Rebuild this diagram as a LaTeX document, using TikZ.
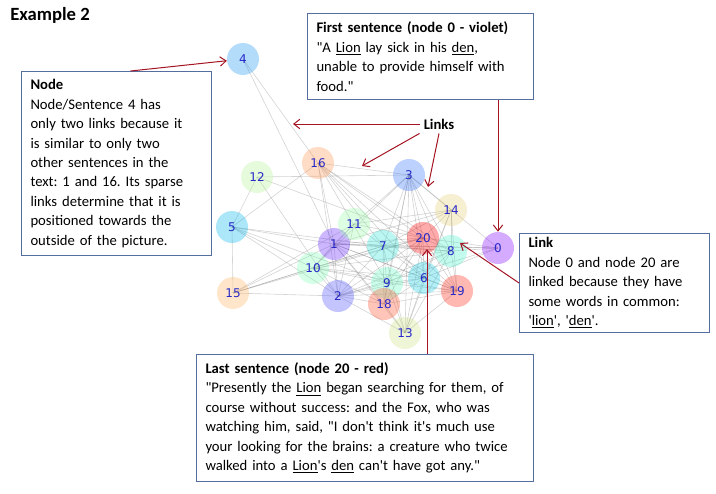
\documentclass[tikz,border=0pt]{standalone}
\usepackage{fontspec}
\setmainfont{Carlito}[Ligatures=TeXOff]
\newfontfamily\labelfont{DejaVu Sans}
\usetikzlibrary{arrows.meta}
\usetikzlibrary{backgrounds}
\usetikzlibrary{positioning}
\frenchspacing
\definecolor{boxblue}{RGB}{84,110,160}
\definecolor{mred}{RGB}{165,20,35}
\definecolor{lblue}{RGB}{40,40,200}
\tikzset{vertex/.style = {circle, minimum size=24pt, inner sep=0pt,
                          fill opacity=0.33, text opacity=1, text=lblue,
                          font=\labelfont\fontsize{9}{9}\selectfont}}
\tikzset{link/.style = {draw=gray, draw opacity=0.35, line width=0.45pt}}
\tikzset{textbox/.style = {draw=boxblue, line width=0.75pt, anchor=north west,
                           align=left, inner xsep=6.75pt, inner ysep=3pt,
                           font=\fontsize{11}{14.6}\selectfont}}
\tikzset{pointer/.style = {draw=mred, line width=0.75pt,
                           -{Straight Barb[length=4.5pt,width=7pt]}}}

\begin{document}
\begin{tikzpicture}[x=0.75pt, y=-0.75pt]
    \useasboundingbox (0,0) rectangle (716,493);
    \node [anchor=base west, inner sep=0pt, font=\bfseries\fontsize{14}{16}\selectfont] (title) at (10,20) {Example 2};

    % sentences, coloured along the rainbow from 0 to 20
    \foreach \i/\x/\y in {0/498/248, 1/334/244, 2/338/296, 3/409/175, 4/243/59,
                          5/232/227, 6/424/278, 7/383/246, 8/451/251, 9/387/283,
                          10/313/268, 11/354/224, 12/257/177, 13/405/333, 14/451/210,
                          15/233/293, 16/318/163, 18/384/304, 19/457/291, 20/423/238} {
      \pgfmathsetmacro\valR{min(1, abs(2*\i/20 - 0.5))}
      \pgfmathsetmacro\valG{sin(180*\i/20)}
      \pgfmathsetmacro\valB{cos(90*\i/20)}
      \definecolor{c\i}{rgb}{\valR,\valG,\valB}
      \node [vertex, fill=c\i] (n\i) at (\x,\y) {\i};
    }

    \begin{scope}[on background layer]
      \foreach \a/\b in {4/16, 4/1, 12/3, 12/5, 12/20, 12/2,
                         16/3, 16/5, 16/1, 16/20, 16/8, 16/9, 16/7, 16/6, 16/2, 16/19,
                         5/1, 5/15, 5/7, 5/2, 5/9, 5/10,
                         15/10, 15/1, 15/7, 15/2, 15/11, 15/20,
                         3/0, 3/14, 3/20, 3/7, 3/8, 3/9, 3/6, 3/13, 3/10, 3/19, 3/18, 3/11,
                         14/8, 14/20, 14/19, 14/7, 14/1, 14/11, 14/6, 14/13,
                         0/20, 0/8, 0/7, 0/1, 0/6, 0/2,
                         1/7, 1/20, 1/8, 1/2, 1/10, 1/9, 1/18, 1/6, 1/19, 1/11, 1/13,
                         7/20, 7/8, 7/9, 7/6, 7/18, 7/10, 7/2, 7/13, 7/19,
                         20/8, 20/6, 20/9, 20/18, 20/13, 20/10, 20/2, 20/19,
                         8/6, 8/19, 8/10, 8/2, 8/9, 8/13,
                         6/9, 6/18, 6/19, 6/13, 6/10, 6/2,
                         9/18, 9/2, 9/10, 9/13, 9/19,
                         18/13, 18/2, 18/19, 18/10,
                         2/10, 2/13, 2/19, 11/7, 11/20, 11/10, 11/2, 19/13, 10/19} {
        \draw [link] (n\a.center) -- (n\b.center);
      }
    \end{scope}

    \node [textbox, text width=129pt, minimum height=138pt] (nodebox) at (21,71)
      {\textbf{Node}\\
       Node/Sentence 4 has\\
       only two links because it\\
       is similar to only two\\
       other sentences in the\\
       text: 1 and 16. Its sparse\\
       links determine that it is\\
       positioned towards the\\
       outside of the picture.};
    \node [textbox, text width=156pt, minimum height=64.5pt] (firstbox) at (307,13)
      {\textbf{First sentence (node 0 - violet)}\\
       "A \underline{Lion} lay sick in his \underline{den},\\
       unable to provide himself with\\
       food."};
    \node [textbox, text width=129pt, minimum height=72.75pt] (linkbox) at (519,233)
      {\textbf{Link}\\
       Node 0 and node 20 are\\
       linked because they have\\
       some words in common:\\
       '\underline{lion}', '\underline{den}'.};
    \node [textbox, text width=239.25pt, minimum height=95.25pt] (lastbox) at (196,354)
      {\textbf{Last sentence (node 20 - red)}\\
       "Presently the \underline{Lion} began searching for them, of\\
       course without success: and the Fox, who was\\
       watching him, said, "I don't think it's much use\\
       your looking for the brains: a creature who twice\\
       walked into a \underline{Lion}'s \underline{den} can't have got any."};
    \node [inner sep=3pt, font=\bfseries\fontsize{11}{13}\selectfont] (links) at (439,124) {Links};

    \coordinate (edgeA) at (293,124);
    \coordinate (edgeB) at (362,166);
    \coordinate (edgeC) at (428,187);
    \coordinate (edgeD) at (460,243);
    \coordinate (tip20) at (427,249);

    \draw [pointer] ([xshift=10.5pt]nodebox.north) -- (n4);
    \draw [pointer] (links.west) -- (edgeA);
    \draw [pointer] (links.south west) -- (edgeB);
    \draw [pointer] (links.south) -- (edgeC);
    \draw [pointer] (firstbox.south -| n0) -- (n0);
    \draw [pointer] (linkbox.west) -- (edgeD);
    \draw [pointer] (lastbox.north -| tip20) -- (tip20);
  \end{tikzpicture}
\end{document}
